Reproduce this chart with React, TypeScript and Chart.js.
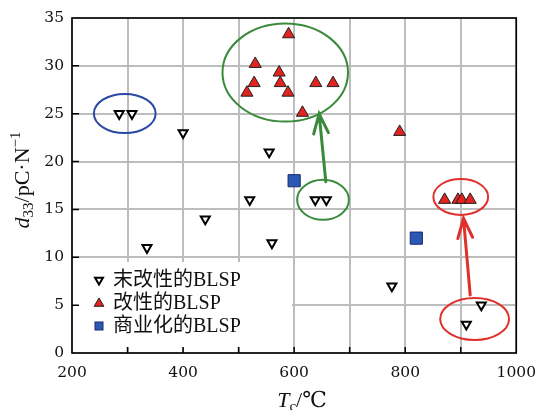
import React, { useEffect, useRef } from 'react';
import { Chart, registerables } from 'chart.js';

Chart.register(...registerables);

// ---- data ----
const unmodifiedTc = [285, 308, 400, 555, 335, 440, 520, 560, 638, 658, 776, 937, 910];
const unmodifiedD33 = [25, 25, 23, 21, 11, 14, 16, 11.5, 16, 16, 7, 5, 3];
const modifiedTc = [590, 530, 528, 515, 573, 575, 589, 639, 670, 615, 790, 871, 895, 902, 917];
const modifiedD33 = [33.3, 30.2, 28.2, 27.2, 29.3, 28.2, 27.2, 28.2, 28.2, 25.1, 23.1, 16, 16, 16, 16];
const commercialTc = [600, 820];
const commercialD33 = [18, 12];

const seriesLabels = ['末改性的BLSP', '改性的BLSP', '商业化的BLSP'];
const xTicks = [200, 400, 600, 800, 1000];
const yTicks = [0, 5, 10, 15, 20, 25, 30, 35];

// annotation ellipses (data units) and arrows
const ellipseCx = [295, 584, 652, 900, 925];
const ellipseCy = [25.02, 29.3, 16.0, 16.3, 3.55];
const ellipseRx = [55.6, 113, 46.6, 49.3, 62];
const ellipseRy = [2.04, 5.12, 2.09, 1.88, 2.19];
const ellipseColor = ['#2a48a6', '#3a8a3c', '#3a8a3c', '#e0302c', '#e0302c'];

const arrowFrom = [[657, 17.9], [917, 6.06]];
const arrowTo = [[645, 25.0], [905, 14.07]];
const arrowColor = ['#3a8a3c', '#e0302c'];

const RED = '#e2231f';
const BLUE = '#2a58b5';
const SERIF = '"Liberation Serif", "DejaVu Serif", "Noto Sans CJK SC", serif';
const TICK_FONT = '"DejaVu Serif", serif';

const toPts = (xs: number[], ys: number[]) => xs.map((x, i) => ({ x, y: ys[i] }));

function drawTri(ctx: CanvasRenderingContext2D, x: number, y: number, r: number, down: boolean) {
  const s = down ? -1 : 1;
  ctx.beginPath();
  ctx.moveTo(x, y - s * r);
  ctx.lineTo(x + r * Math.sin((2 * Math.PI) / 3), y + s * r * 0.5);
  ctx.lineTo(x - r * Math.sin((2 * Math.PI) / 3), y + s * r * 0.5);
  ctx.closePath();
}

function drawPieces(ctx: CanvasRenderingContext2D, pieces: { t: string; f: string; dy: number }[], cx: number, baseY: number) {
  let total = 0;
  for (const p of pieces) {
    ctx.font = p.f;
    total += ctx.measureText(p.t).width;
  }
  let x = cx - total / 2;
  ctx.textAlign = 'left';
  ctx.textBaseline = 'alphabetic';
  for (const p of pieces) {
    ctx.font = p.f;
    ctx.fillText(p.t, x, baseY + p.dy);
    x += ctx.measureText(p.t).width;
  }
}

const decorPlugin = {
  id: 'decor',
  beforeDatasetsDraw(chart: any) {
    const { ctx, chartArea } = chart;
    const { left, right, top, bottom } = chartArea;
    const xs = chart.scales.x;
    const ys = chart.scales.y;
    ctx.save();
    // legend background covering grid
    ctx.fillStyle = '#ffffff';
    ctx.fillRect(left + 1, bottom - 91, 219, 85);
    // inward tick marks
    ctx.strokeStyle = '#000';
    ctx.lineWidth = 1.5;
    ctx.beginPath();
    for (let v = 300; v <= 900; v += 100) {
      const px = xs.getPixelForValue(v);
      ctx.moveTo(px, bottom);
      ctx.lineTo(px, bottom - 6);
    }
    for (let v = 5; v <= 30; v += 5) {
      const py = ys.getPixelForValue(v);
      ctx.moveTo(left, py);
      ctx.lineTo(left + 7, py);
    }
    ctx.stroke();
    // frame
    ctx.lineWidth = 1.6;
    ctx.strokeRect(left, top, right - left, bottom - top);
    ctx.restore();
  },
  afterDatasetsDraw(chart: any) {
    const { ctx, chartArea } = chart;
    const { left, bottom } = chartArea;
    const xs = chart.scales.x;
    const ys = chart.scales.y;
    ctx.save();
    // ellipses
    ctx.lineWidth = 2;
    for (let i = 0; i < ellipseCx.length; i++) {
      const cx = xs.getPixelForValue(ellipseCx[i]);
      const cy = ys.getPixelForValue(ellipseCy[i]);
      const rx = Math.abs(xs.getPixelForValue(ellipseCx[i] + ellipseRx[i]) - cx);
      const ry = Math.abs(ys.getPixelForValue(ellipseCy[i] + ellipseRy[i]) - cy);
      ctx.strokeStyle = ellipseColor[i];
      ctx.beginPath();
      ctx.ellipse(cx, cy, rx, ry, 0, 0, Math.PI * 2);
      ctx.stroke();
    }
    // arrows
    ctx.lineWidth = 3;
    ctx.lineCap = 'round';
    for (let i = 0; i < arrowFrom.length; i++) {
      const x1 = xs.getPixelForValue(arrowFrom[i][0]);
      const y1 = ys.getPixelForValue(arrowFrom[i][1]);
      const x2 = xs.getPixelForValue(arrowTo[i][0]);
      const y2 = ys.getPixelForValue(arrowTo[i][1]);
      const ang = Math.atan2(y1 - y2, x1 - x2);
      const hl = 21;
      const ha = 0.36;
      ctx.strokeStyle = arrowColor[i];
      ctx.beginPath();
      ctx.moveTo(x1, y1);
      ctx.lineTo(x2, y2);
      ctx.moveTo(x2 + hl * Math.cos(ang + ha), y2 + hl * Math.sin(ang + ha));
      ctx.lineTo(x2, y2);
      ctx.lineTo(x2 + hl * Math.cos(ang - ha), y2 + hl * Math.sin(ang - ha));
      ctx.stroke();
    }
    // legend
    const mx = left + 27;
    const rows = [bottom - 73, bottom - 50, bottom - 27];
    ctx.lineCap = 'butt';
    drawTri(ctx, mx, rows[0], 4.6, true);
    ctx.fillStyle = '#fff';
    ctx.fill();
    ctx.lineWidth = 2;
    ctx.strokeStyle = '#000';
    ctx.stroke();
    drawTri(ctx, mx, rows[1] + 0.5, 5.6, false);
    ctx.fillStyle = RED;
    ctx.fill();
    ctx.lineWidth = 1;
    ctx.strokeStyle = '#222';
    ctx.stroke();
    ctx.fillStyle = BLUE;
    ctx.fillRect(mx - 4, rows[2] - 4, 8, 8);
    ctx.strokeStyle = '#1a2a6a';
    ctx.strokeRect(mx - 4, rows[2] - 4, 8, 8);
    ctx.fillStyle = '#111';
    ctx.font = `20px ${SERIF}`;
    ctx.textAlign = 'left';
    ctx.textBaseline = 'middle';
    for (let i = 0; i < 3; i++) {
      ctx.fillText(seriesLabels[i], left + 41, rows[i] + 1);
    }
    ctx.restore();
  },
  afterDraw(chart: any) {
    const { ctx } = chart;
    ctx.save();
    ctx.fillStyle = '#111';
    drawPieces(
      ctx,
      [
        { t: 'T', f: `italic 22px ${SERIF}`, dy: 0 },
        { t: 'c', f: `15px ${SERIF}`, dy: 4 },
        { t: '/℃', f: `22px ${SERIF}`, dy: 0 },
      ],
      302,
      407
    );
    ctx.translate(29, 180);
    ctx.rotate(-Math.PI / 2);
    drawPieces(
      ctx,
      [
        { t: 'd', f: `italic 22px ${SERIF}`, dy: 0 },
        { t: '33', f: `15px ${SERIF}`, dy: 4 },
        { t: '/pC·N', f: `22px ${SERIF}`, dy: 0 },
        { t: '−1', f: `15px ${SERIF}`, dy: -9 },
      ],
      0,
      0
    );
    ctx.restore();
  },
};

export default function App() {
  const ref = useRef<HTMLCanvasElement | null>(null);
  useEffect(() => {
    if (!ref.current) return;
    const chart = new Chart(ref.current, {
      type: 'scatter',
      data: {
        datasets: [
          {
            label: seriesLabels[0],
            data: toPts(unmodifiedTc, unmodifiedD33),
            pointStyle: 'triangle',
            rotation: 180,
            radius: 5.2,
            backgroundColor: '#ffffff',
            borderColor: '#000000',
            borderWidth: 2,
          },
          {
            label: seriesLabels[1],
            data: toPts(modifiedTc, modifiedD33),
            pointStyle: 'triangle',
            radius: 7,
            backgroundColor: RED,
            borderColor: '#222222',
            borderWidth: 1,
          },
          {
            label: seriesLabels[2],
            data: toPts(commercialTc, commercialD33),
            pointStyle: 'rect',
            radius: 8.6,
            backgroundColor: BLUE,
            borderColor: '#1a2a6a',
            borderWidth: 1,
          },
        ],
      },
      options: {
        responsive: false,
        animation: false,
        devicePixelRatio: 1,
        layout: { padding: { top: 18, right: 29, left: 0, bottom: 0 } },
        plugins: {
          legend: { display: false },
          tooltip: { enabled: false },
        },
        scales: {
          x: {
            type: 'linear',
            min: 200,
            max: 1000,
            ticks: {
              stepSize: 100,
              padding: 11,
              color: '#111',
              font: { family: TICK_FONT, size: 15.5 },
              callback: (v: any) => (xTicks.includes(Number(v)) ? String(v) : ''),
              maxRotation: 0,
              autoSkip: false,
            },
            grid: { color: '#bdbdbd', lineWidth: 2, drawTicks: false },
            border: { display: false },
            afterFit: (s: any) => {
              s.height = 57;
            },
          },
          y: {
            type: 'linear',
            min: 0,
            max: 35,
            ticks: {
              stepSize: 5,
              padding: 8,
              color: '#111',
              font: { family: TICK_FONT, size: 15.5 },
              callback: (v: any) => (yTicks.includes(Number(v)) ? String(v) : ''),
            },
            grid: { color: '#bdbdbd', lineWidth: 2, drawTicks: false },
            border: { display: false },
            afterFit: (s: any) => {
              s.width = 72;
            },
          },
        },
      },
      plugins: [decorPlugin],
    });
    return () => chart.destroy();
  }, []);
  return (
    <div style={{ position: 'fixed', left: 0, top: 0, width: 547, height: 410, background: '#fff' }}>
      <canvas ref={ref} width={547} height={410} />
    </div>
  );
}
